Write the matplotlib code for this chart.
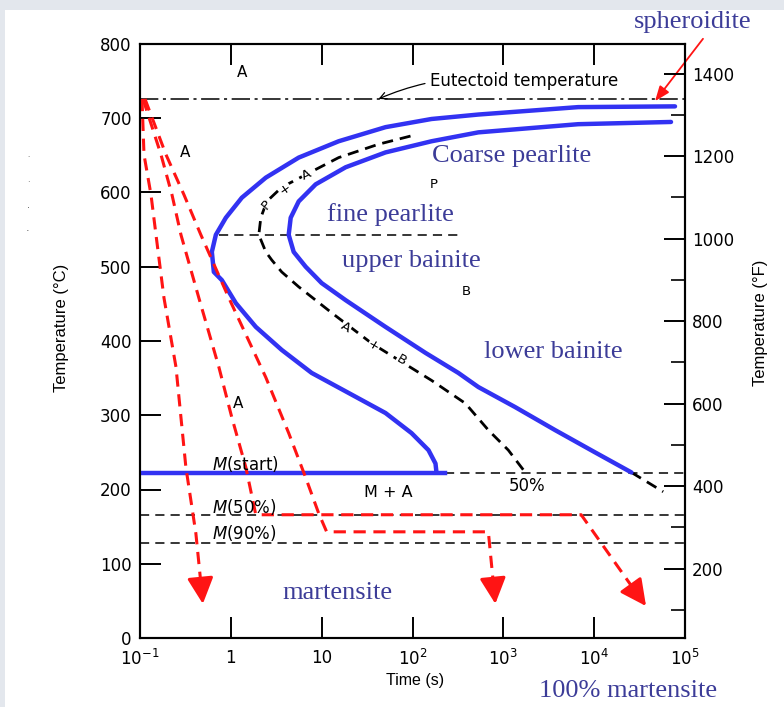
import numpy as np
import matplotlib
matplotlib.use('Agg')
import matplotlib.pyplot as plt
from matplotlib.patches import Rectangle
from matplotlib.ticker import NullLocator, FixedLocator

# ---- data (log10 of time in s, temperature in C) ----
start_logt = np.array([4.89, 3.824, 2.725, 2.209, 1.703, 1.187, 0.747, 0.385, 0.121, -0.055,
                       -0.165, -0.209, -0.187, -0.099, 0.055, 0.275, 0.560, 0.890, 1.297,
                       1.703, 1.989, 2.176, 2.253, 2.264])
start_temp = np.array([716, 715, 705, 699, 688, 669, 647, 620, 593, 566,
                       543, 520, 493, 482, 451, 419, 388, 357, 330,
                       303, 276, 253, 235, 223])

finish_logt = np.array([4.846, 3.824, 2.725, 2.209, 1.703, 1.264, 0.934, 0.747, 0.659, 0.637,
                        0.692, 0.824, 1.0, 1.264, 1.593, 1.703, 2.143, 2.505, 2.725, 3.13,
                        3.57, 4.01, 4.41])
finish_temp = np.array([695, 692, 681, 669, 654, 634, 611, 588, 566, 543,
                        520, 500, 478, 455, 428, 419, 384, 357, 338, 311,
                        280, 250, 223])

half_logt = np.array([1.978, 1.626, 1.187, 0.824, 0.560, 0.396, 0.330, 0.308, 0.385, 0.451,
                      0.560, 0.747, 1.110, 1.549, 1.879, 2.209, 2.582, 2.835, 3.055, 3.198,
                      3.242])
half_temp = np.array([676, 665, 647, 624, 607, 588, 566, 543, 520, 509,
                      493, 473, 438, 397, 372, 347, 316, 280, 253, 230,
                      223])
tail_logt = np.array([4.41, 4.76])
tail_temp = np.array([223, 197])

# cooling paths (red); last point = base of arrow head
path1_logt = np.array([-0.978, -0.956, -0.879, -0.824, -0.736, -0.604, -0.495, -0.385, -0.335])
path1_temp = np.array([726, 651, 597, 543, 458, 365, 230, 141, 80])
path1_tip = (-0.308, 46)

path2_logt = np.array([-0.967, -0.769, -0.648, -0.549, -0.352, -0.132, 0.011, 0.165, 0.275,
                       3.857, 4.40])
path2_temp = np.array([726, 651, 597, 543, 458, 365, 297, 230, 166, 166, 72])
path2_tip = (4.571, 43)

path3_logt = np.array([-0.945, -0.714, -0.516, -0.330, -0.022, 0.385, 0.637, 0.824, 0.967,
                       1.055, 2.835, 2.885])
path3_temp = np.array([726, 651, 597, 543, 458, 351, 276, 216, 168, 143, 143, 80])
path3_tip = (2.912, 46)

eutectoid_T = 726
ms_T = 222
m50_T = 165
m90_T = 128
nose_T = 543
nose_logt = (-0.13, 2.53)
ms_blue_end = 2.36

x_ticks = [0.1, 1, 10, 100, 1e3, 1e4, 1e5]
x_labels = ['$10^{-1}$', '1', '10', '$10^2$', '$10^3$', '$10^4$', '$10^5$']
c_ticks = list(range(0, 801, 100))
f_major = list(range(200, 1401, 200))
f_minor = [100, 300, 500, 700, 900, 1100, 1300]

BLUE = '#3232f2'
RED = '#ff1414'
TXT = '#3c3c98'

fig = plt.figure(figsize=(7.84, 7.07), dpi=100)
fig.patch.set_facecolor('#e3e7ed')
fig.add_artist(Rectangle((5 / 784, 0), 1, 1 - 10 / 707, transform=fig.transFigure,
                         facecolor='white', edgecolor='none', zorder=-10))
for yy, s in [(155, 5), (180, 6), (205, 7), (228, 8)]:
    fig.text(28 / 784, 1 - yy / 707, '.', fontsize=s, color='#555555', ha='center', va='center')

ax = fig.add_axes([140 / 784, 1 - 638 / 707, 545 / 784, 594 / 707])
ax.set_xscale('log')
ax.set_xlim(0.1, 1e5)
ax.set_ylim(0, 800)

# horizontal reference lines
ax.plot([0.1, 1e5], [eutectoid_T] * 2, color='black', lw=1.1, dashes=(12, 3, 2, 3))
ax.plot([10 ** ms_blue_end, 1e5], [ms_T] * 2, color='black', lw=1.1, dashes=(6, 4))
ax.plot([0.1, 1e5], [m50_T] * 2, color='black', lw=1.1, dashes=(6, 4))
ax.plot([0.1, 1e5], [m90_T] * 2, color='black', lw=1.1, dashes=(6, 4))
ax.plot(10 ** np.array(nose_logt), [nose_T] * 2, color='black', lw=1.1, dashes=(6, 4))

# 50 % transformation curve
ax.plot(10 ** half_logt, half_temp, color='black', lw=2, dashes=(4, 2.5))
ax.plot(10 ** tail_logt, tail_temp, color='black', lw=2, dashes=(4, 2.5))

# start / finish curves
ax.plot(10 ** start_logt, start_temp, color=BLUE, lw=3.2, solid_capstyle='round',
        solid_joinstyle='round', zorder=4)
ax.plot(10 ** finish_logt, finish_temp, color=BLUE, lw=3.2, solid_capstyle='round',
        solid_joinstyle='round', zorder=4)
ax.plot([0.1, 10 ** ms_blue_end], [ms_T] * 2, color=BLUE, lw=3.2, zorder=4)

# cooling paths with arrow heads
for lt, tt, tip in [(path1_logt, path1_temp, path1_tip),
                    (path2_logt, path2_temp, path2_tip),
                    (path3_logt, path3_temp, path3_tip)]:
    ax.plot(10 ** lt, tt, color=RED, lw=2.2, dashes=(4, 2.5), zorder=5)
    ax.annotate('', xy=(10 ** tip[0], tip[1]), xytext=(10 ** lt[-1], tt[-1]),
                arrowprops=dict(arrowstyle='-|>,head_length=0.8,head_width=0.4',
                                mutation_scale=20, color=RED, lw=2.2,
                                shrinkA=0, shrinkB=0), zorder=5)

# small black labels
small = dict(fontsize=11, color='black', ha='center', va='center', zorder=6)
ax.text(10 ** 0.121, 762, 'A', **small)
ax.text(10 ** -0.505, 654, 'A', **small)
ax.text(10 ** 0.077, 316, 'A', **small)
ax.text(10 ** 2.23, 611, 'P', fontsize=9.5, ha='center', va='center')
ax.text(10 ** 2.593, 466, 'B', fontsize=9.5, ha='center', va='center')
ax.text(10 ** 1.736, 196, 'M + A', fontsize=11.5, ha='center', va='center', zorder=6)
ax.text(10 ** 3.264, 205, '50%', fontsize=12, ha='center', va='center', zorder=6)
box = dict(facecolor='white', edgecolor='none', pad=0.5)
for lab, lx, ty, rot in [('P', 0.396, 584, 50), ('+', 0.593, 605, 35), ('A', 0.835, 624, 25),
                         ('A', 1.264, 418, -30), ('+', 1.571, 393, -30), ('B', 1.879, 374, -30)]:
    ax.text(10 ** lx, ty, lab, fontsize=9.5, rotation=rot, ha='center', va='center',
            bbox=box, zorder=6)
ax.text(10 ** -0.209, 235, '$M$(start)', fontsize=12, ha='left', va='center', zorder=6)
ax.text(10 ** -0.209, 176, '$M$(50%)', fontsize=12, ha='left', va='center', zorder=6)
ax.text(10 ** -0.209, 141, '$M$(90%)', fontsize=12, ha='left', va='center', zorder=6)
ax.annotate('Eutectoid temperature', xy=(10 ** 1.626, eutectoid_T), xytext=(10 ** 2.198, 750),
            fontsize=12, ha='left', va='center',
            arrowprops=dict(arrowstyle='->', color='black', lw=0.9, shrinkA=2, shrinkB=0,
                            connectionstyle='arc3,rad=0.15'))

# blue annotations
serif = dict(family='Liberation Serif', fontsize=19, color=TXT, ha='center', va='center', zorder=7)
ax.text(10 ** 3.088, 649, 'Coarse pearlite', **serif)
ax.text(10 ** 1.758, 570, 'fine pearlite', **serif)
ax.text(10 ** 1.99, 508, 'upper bainite', **serif)
ax.text(10 ** 3.55, 385, 'lower bainite', **serif)
ax.text(10 ** 1.176, 61, 'martensite', **serif)
ax.text(10 ** 4.374, -72, '100% martensite', clip_on=False, **serif)
ax.text(10 ** 5.08, 829, 'spheroidite', clip_on=False, **serif)
ax.annotate('', xy=(10 ** 4.67, 723), xytext=(10 ** 5.198, 807), annotation_clip=False,
            arrowprops=dict(arrowstyle='-|>,head_length=0.9,head_width=0.35', color=RED,
                            lw=1.3, shrinkA=0, shrinkB=0))

# axes styling
for sp in ax.spines.values():
    sp.set_linewidth(1.5)
ax.set_xticks(x_ticks)
ax.set_xticklabels(x_labels)
ax.xaxis.set_minor_locator(NullLocator())
ax.set_yticks(c_ticks)
ax.tick_params(which='major', direction='in', length=15, width=1.4, labelsize=12, pad=6,
               top=True, right=False)
ax.tick_params(axis='x', pad=8)
ax.set_xlabel('Time (s)', fontsize=11.5, family='Liberation Sans')
ax.xaxis.set_label_coords((415 - 140) / 545, -(673 - 638) / 594)
ax.set_ylabel('Temperature (\u00b0C)', fontsize=12, family='Liberation Sans')
ax.yaxis.set_label_coords((69 - 140) / 545, (638 - 328) / 594)

ax2 = ax.twinx()
ax2.set_ylim(0 * 9 / 5 + 32, 800 * 9 / 5 + 32)
ax2.yaxis.set_major_locator(FixedLocator(f_major))
ax2.yaxis.set_minor_locator(FixedLocator(f_minor))
ax2.tick_params(which='major', direction='in', length=15, width=1.4, labelsize=12, pad=5)
ax2.tick_params(which='minor', direction='in', length=10, width=1.2)
ax2.set_ylabel('Temperature (\u00b0F)', fontsize=12, family='Liberation Sans')
ax2.yaxis.set_label_coords((753 - 140) / 545, (638 - 323) / 594)
for sp in ax2.spines.values():
    sp.set_linewidth(1.5)

fig.savefig('out.png', dpi=100, facecolor=fig.get_facecolor())
